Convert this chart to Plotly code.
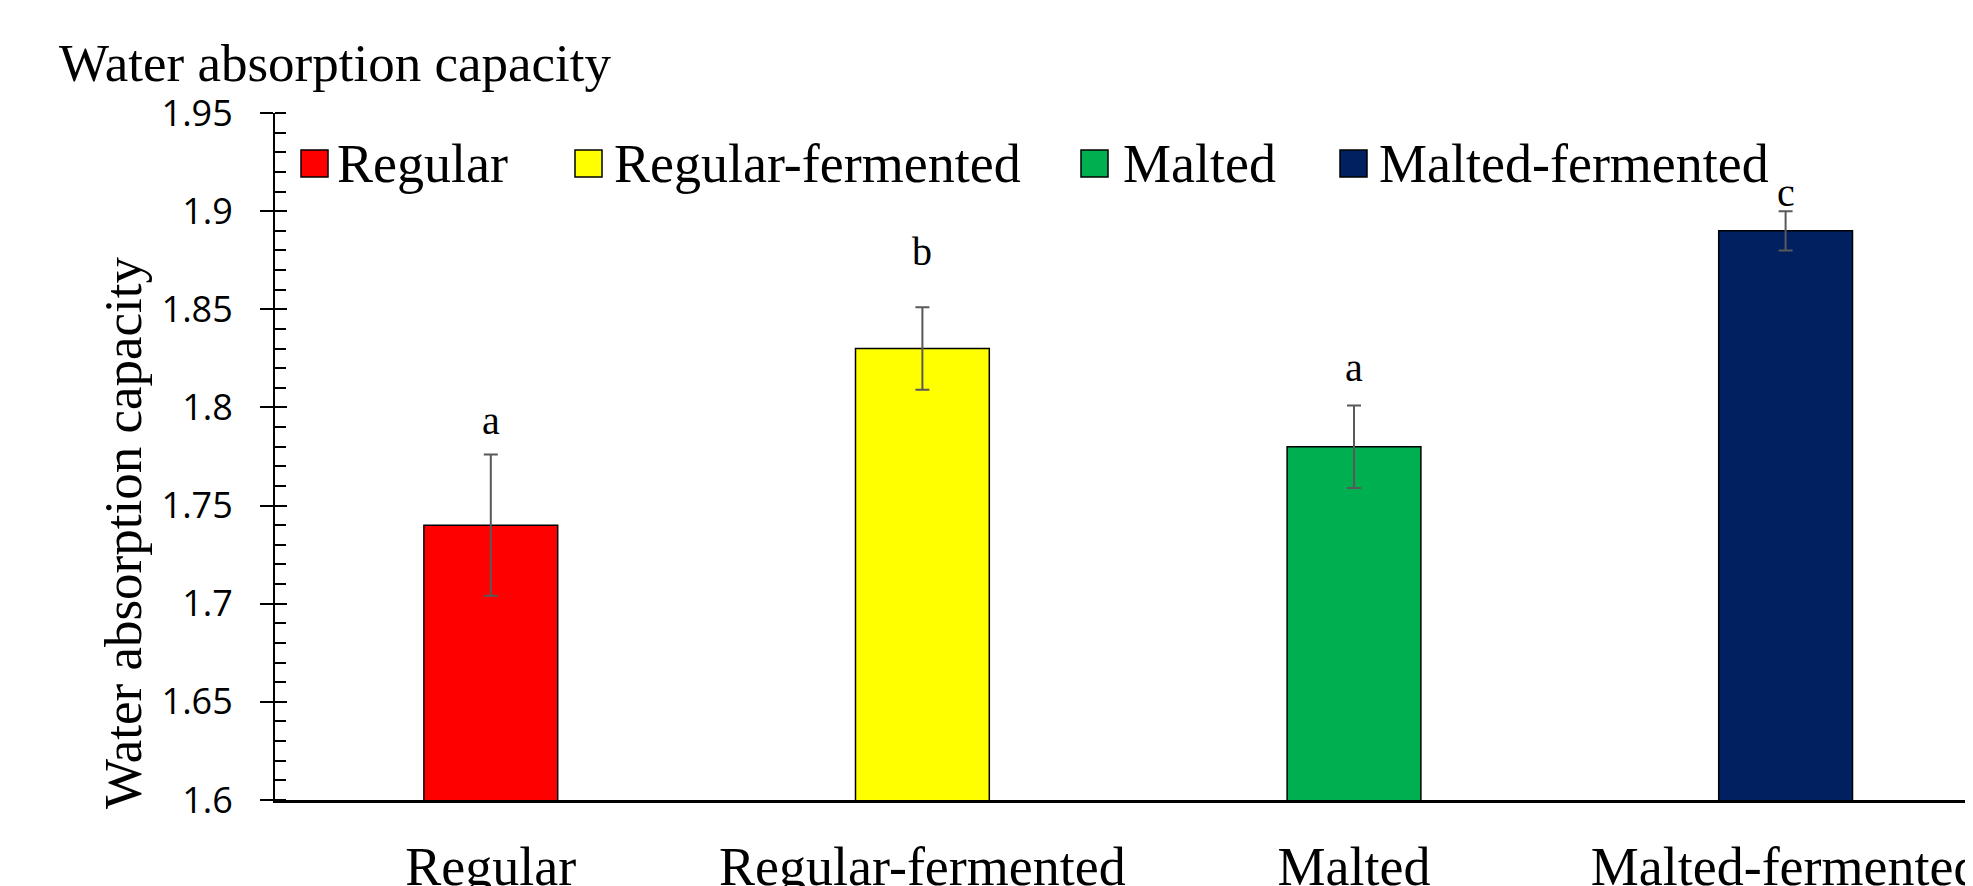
import plotly.graph_objects as go

categories = ["Regular", "Regular-fermented", "Malted", "Malted-fermented"]
values = [1.74, 1.83, 1.78, 1.89]
errors = [0.036, 0.021, 0.021, 0.010]
letters = ["a", "b", "a", "c"]
letter_y = [1.7935, 1.8795, 1.8205, 1.9095]
colors = ["#FF0000", "#FFFF00", "#00B050", "#002060"]
y_ticks = [1.6, 1.65, 1.7, 1.75, 1.8, 1.85, 1.9, 1.95]
y_ticklabels = ["1.6", "1.65", "1.7", "1.75", "1.8", "1.85", "1.9", "1.95"]

SERIF = "Liberation Serif, Times New Roman, serif"

OFF = 8  # page body margin
W, H = 1973, 886
L, R, T, B = 267, 0, 105, 94
pw = W - L - R
ph = H - T - B


def px_x(screen_x):
    return (screen_x - OFF - L) / pw


def px_y(screen_y):
    return (H - B - (screen_y - OFF)) / ph


fig = go.Figure()

for c, v, e, col in zip(categories, values, errors, colors):
    fig.add_trace(go.Bar(
        x=[c], y=[v], width=0.31,
        marker=dict(color=col, line=dict(color="black", width=1.5)),
        error_y=dict(type="data", array=[e], visible=True, color="#595959", thickness=2, width=7),
        showlegend=False,
    ))

# dummy trace for the overlaying tick axis
fig.add_trace(go.Scatter(x=[None], y=[None], yaxis="y2", showlegend=False, hoverinfo="skip"))

legend_text_start = [329, 606, 1115, 1371]
swatch_left = [301, 575, 1081, 1340]
legend_names = ["legend", "legend2", "legend3", "legend4"]
for i, (c, col) in enumerate(zip(categories, colors)):
    fig.add_trace(go.Scatter(
        x=[None], y=[None], mode="markers", name=c,
        marker=dict(symbol="square", size=1, color="rgba(0,0,0,0)"),
        legend=legend_names[i], showlegend=True,
    ))
    fig.add_shape(type="rect", xref="paper", yref="paper",
                  x0=px_x(swatch_left[i]), x1=px_x(swatch_left[i] + 27),
                  y0=px_y(177), y1=px_y(150),
                  fillcolor=col, line=dict(color="black", width=1.5), layer="above")

for c, t, ly in zip(categories, letters, letter_y):
    fig.add_annotation(x=c, y=ly, text=t, showarrow=False,
                       font=dict(family=SERIF, size=40, color="black"),
                       xanchor="center", yanchor="middle")

fig.add_annotation(xref="paper", yref="paper", x=px_x(123), y=px_y(533),
                   text="Water absorption capacity", textangle=-90, showarrow=False,
                   font=dict(family=SERIF, size=53, color="black"),
                   xanchor="center", yanchor="middle")

layout_legends = {}
for i, name in enumerate(legend_names):
    layout_legends[name] = dict(
        x=px_x(legend_text_start[i] - 32), xanchor="left",
        y=px_y(161), yanchor="middle",
        orientation="h", bgcolor="rgba(0,0,0,0)", borderwidth=0,
        font=dict(family=SERIF, size=54, color="black"),
    )

fig.update_layout(
    width=W, height=H,
    margin=dict(l=L, r=R, t=T, b=B, autoexpand=False),
    paper_bgcolor="white", plot_bgcolor="white",
    barmode="overlay",
    title=dict(text="Water absorption capacity", x=51 / W, xanchor="left",
               y=1 - 54 / H, yanchor="middle", xref="container", yref="container",
               font=dict(family=SERIF, size=53, color="black")),
    yaxis2=dict(overlaying="y", side="left", range=[1.6, 1.95], tickvals=y_ticks,
                showticklabels=False, ticks="inside", ticklen=12, tickwidth=2,
                tickcolor="black", showgrid=False, zeroline=False, showline=False),
    **layout_legends,
)

fig.update_xaxes(
    type="category", categoryorder="array", categoryarray=categories,
    range=[-0.5, -0.5 + pw / 431.6],
    showline=True, linecolor="black", linewidth=3,
    ticks="", showgrid=False, zeroline=False,
    tickfont=dict(family=SERIF, size=54, color="black"),
    ticklabelstandoff=17, automargin=False,
)

fig.update_yaxes(
    selector=dict(overlaying=None),
    range=[1.6, 1.95], tickvals=y_ticks, ticktext=y_ticklabels,
    showline=True, linecolor="black", linewidth=2,
    ticks="outside", ticklen=13, tickwidth=2, tickcolor="black",
    minor=dict(dtick=0.01, ticks="inside", ticklen=11, tickwidth=1.5, tickcolor="black"),
    showgrid=False, zeroline=False,
    tickfont=dict(family="Open Sans, sans-serif", size=36, color="black"),
    ticklabelstandoff=20, automargin=False,
)

fig.write_html("out.html")
